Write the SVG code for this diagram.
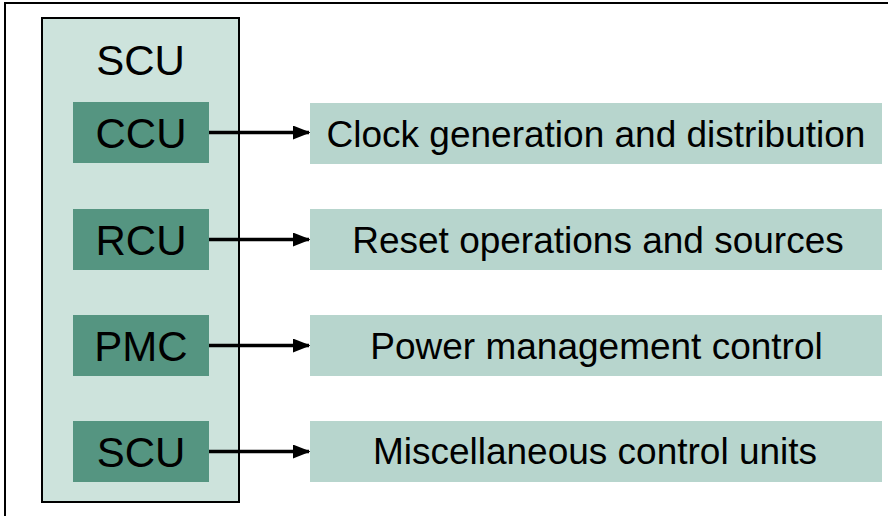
<svg xmlns="http://www.w3.org/2000/svg" width="888" height="516" viewBox="0 0 888 516">
<defs>
<style>
.frame{fill:#ffffff;stroke:#000;stroke-width:2}
.outer{fill:#cde3dc;stroke:#000;stroke-width:2}
.unit{fill:#559581}
.desc{fill:#b7d5cd}
.t{font-family:"Liberation Sans",Arial,sans-serif;fill:#000;text-anchor:middle}
.big{font-size:42px}
.mid{font-size:37px}
.con{stroke:#000;stroke-width:3.5;fill:none}
</style>
<marker id="ah" markerWidth="5" markerHeight="4" refX="4.6" refY="2" orient="auto" markerUnits="strokeWidth">
<path d="M0,0 L5,2 L0,4 Z" fill="#000"/>
</marker>
</defs>
<rect x="0" y="0" width="888" height="516" fill="#fff"/>
<rect class="frame" x="5" y="3" width="890" height="520"/>
<g id="scu-container">
<rect class="outer" x="42" y="18" width="197" height="484"/>
<text class="t big" x="140.5" y="75">SCU</text>
</g>
<g id="ccu">
<rect class="unit" x="73" y="102" width="136" height="61"/>
<text class="t big" x="141" y="147.5">CCU</text>
</g>
<g id="rcu">
<rect class="unit" x="73" y="209" width="136" height="61"/>
<text class="t big" x="141" y="254.5">RCU</text>
</g>
<g id="pmc">
<rect class="unit" x="73" y="315" width="136" height="61"/>
<text class="t big" x="141" y="360.5">PMC</text>
</g>
<g id="scu">
<rect class="unit" x="73" y="421" width="136" height="61"/>
<text class="t big" x="141" y="466.5">SCU</text>
</g>
<g id="clock">
<rect class="desc" x="310" y="103" width="572" height="61"/>
<text class="t mid" x="596" y="147">Clock generation and distribution</text>
</g>
<g id="reset">
<rect class="desc" x="310" y="209" width="572" height="61"/>
<text class="t mid" x="598" y="253">Reset operations and sources</text>
</g>
<g id="power">
<rect class="desc" x="310" y="315" width="572" height="61"/>
<text class="t mid" x="596.5" y="359">Power management control</text>
</g>
<g id="misc">
<rect class="desc" x="310" y="421" width="572" height="61"/>
<text class="t mid" x="595" y="464">Miscellaneous control units</text>
</g>
<g id="connectors">
<line class="con" x1="209" y1="132.5" x2="309" y2="132.5" marker-end="url(#ah)"/>
<line class="con" x1="209" y1="239.5" x2="309" y2="239.5" marker-end="url(#ah)"/>
<line class="con" x1="209" y1="345.5" x2="309" y2="345.5" marker-end="url(#ah)"/>
<line class="con" x1="209" y1="451.5" x2="309" y2="451.5" marker-end="url(#ah)"/>
</g>
</svg>
